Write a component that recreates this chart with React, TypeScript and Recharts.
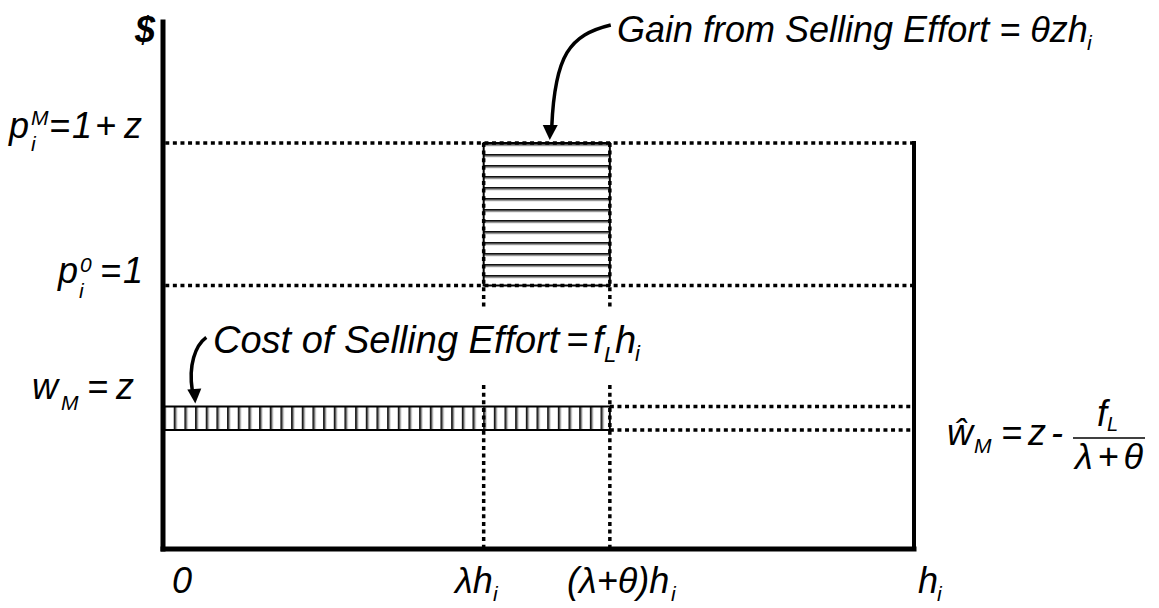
import React from "react";
import {
  ComposedChart,
  XAxis,
  YAxis,
  ReferenceLine,
  ReferenceArea,
  ReferenceDot,
} from "recharts";

// horizontal axis: hours, h_i normalised to 1
const hMax = 1;
const lambda = 0.427;
const lambdaTheta = 0.595;
const xMarks = [0, lambda, lambdaTheta, hMax];

// vertical axis: $ levels
const z = 0.541;
const p0 = 1;
const pM = 1.541;
const wHat = 0.452;
const yTop = 2;
const yMarks = [z, p0, pM];

// where the "Cost of Selling Effort" note breaks the vertical guides
const noteGap = [0.622, 0.915];

// arrow tips of the two notes
const gainTip = { x: 0.515, y: pM };
const costTip = { x: 0.043, y: z };

const FONT = '"Liberation Sans", Arial, Helvetica, sans-serif';
const DOT = "4 3.6";

const T = ({ x, y, size = 36, children, ...rest }: any) => (
  <text
    x={x}
    y={y}
    fontSize={size}
    fontFamily={FONT}
    fontStyle="italic"
    fill="#000"
    {...rest}
  >
    {children}
  </text>
);

const Dollar = ({ cx, cy }: any) => (
  <T x={cx - 28} y={cy + 20} size={36} fontWeight="bold">
    $
  </T>
);

const yLabel = (i: number) => ({ cy }: any) => {
  if (i === 2)
    return (
      <g>
        <T x={9} y={cy - 5}>p</T>
        <T x={31} y={cy - 18} size={21}>M</T>
        <T x={31} y={cy + 8} size={21}>i</T>
        <T x={49} y={cy - 5}>=</T>
        <T x={72} y={cy - 5}>1</T>
        <T x={95} y={cy - 5}>+</T>
        <T x={124} y={cy - 5}>z</T>
      </g>
    );
  if (i === 1)
    return (
      <g>
        <T x={58} y={cy - 3}>p</T>
        <T x={80} y={cy - 14} size={21}>0</T>
        <T x={79} y={cy + 12} size={21}>i</T>
        <T x={100} y={cy - 3}>=</T>
        <T x={123} y={cy - 3}>1</T>
      </g>
    );
  return (
    <g>
      <T x={32} y={cy - 7}>w</T>
      <T x={61} y={cy + 4} size={21}>M</T>
      <T x={87} y={cy - 7}>=</T>
      <T x={116} y={cy - 7}>z</T>
    </g>
  );
};

const xLabel = (i: number) => ({ cy }: any) => {
  const b = cy + 44;
  if (i === 0) return <T x={172} y={b}>0</T>;
  if (i === 1)
    return (
      <g>
        <T x={455} y={b}>λh</T>
        <T x={493} y={b + 8} size={21}>i</T>
      </g>
    );
  if (i === 2)
    return (
      <g>
        <T x={567} y={b}>(λ+θ)h</T>
        <T x={671} y={b + 8} size={21}>i</T>
      </g>
    );
  return (
    <g>
      <T x={918} y={b}>h</T>
      <T x={937} y={b + 8} size={21}>i</T>
    </g>
  );
};

const WHatLabel = ({ cy }: any) => (
  <g>
    <T x={947} y={cy + 15}>ŵ</T>
    <T x={974} y={cy + 23} size={21}>M</T>
    <T x={1001} y={cy + 15}>=</T>
    <T x={1028} y={cy + 15}>z</T>
    <T x={1051} y={cy + 15}>-</T>
    <T x={1097} y={cy - 4}>f</T>
    <T x={1107} y={cy + 1} size={20}>L</T>
    <line x1={1073} x2={1145} y1={cy + 8} y2={cy + 8} stroke="#000" strokeWidth={1.5} />
    <T x={1075} y={cy + 39} textLength={68} lengthAdjust="spacing">λ+θ</T>
  </g>
);

const GainNote = ({ cx, cy }: any) => {
  const tx = cx;
  const ty = cy - 3;
  return (
    <g>
      <path
        d={`M ${tx + 61} ${ty - 115} C ${tx + 20} ${ty - 105}, ${tx + 5} ${ty - 85}, ${tx + 2} ${ty - 13}`}
        fill="none"
        stroke="#000"
        strokeWidth={3.5}
      />
      <path d={`M ${tx} ${ty} L ${tx - 7} ${ty - 15} L ${tx + 8} ${ty - 15} Z`} fill="#000" />
      <T x={617} y={42} size={36}>Gain from Selling Effort = θzh</T>
      <T x={1087} y={50} size={21}>i</T>
    </g>
  );
};

const CostNote = ({ cx, cy }: any) => {
  const tx = cx;
  const ty = cy - 3;
  return (
    <g>
      <path
        d={`M ${tx + 11} ${ty - 66} C ${tx} ${ty - 58}, ${tx - 7} ${ty - 38}, ${tx - 3} ${ty - 13}`}
        fill="none"
        stroke="#000"
        strokeWidth={3.5}
      />
      <path d={`M ${tx} ${ty} L ${tx - 8} ${ty - 14} L ${tx + 6} ${ty - 15} Z`} fill="#000" />
      <T x={213} y={353} size={38}>Cost of Selling Effort</T>
      <T x={566} y={353} size={38}>=</T>
      <T x={593} y={353} size={38}>f</T>
      <T x={604} y={362} size={22}>L</T>
      <T x={615} y={353} size={38}>h</T>
      <T x={635} y={361} size={22}>i</T>
    </g>
  );
};

const chartData = xMarks.map((x) => ({ x }));

export default function App() {
  return (
    <div style={{ position: "absolute", left: 0, top: 0, background: "#fff" }}>
      <svg width={0} height={0} style={{ position: "absolute" }}>
        <defs>
          <pattern id="hStripe" patternUnits="userSpaceOnUse" width={8} height={11}>
            <rect x={0} y={0} width={8} height={11} fill="#fff" />
            <rect x={0} y={0} width={8} height={1.8} fill="#111" />
            <rect x={0} y={1.8} width={8} height={1.4} fill="#999" />
          </pattern>
          <pattern id="vStripe" patternUnits="userSpaceOnUse" x={3} width={10.67} height={8}>
            <rect x={0} y={0} width={10.67} height={8} fill="#fff" />
            <rect x={0} y={0} width={1.8} height={8} fill="#111" />
            <rect x={1.8} y={0} width={1.4} height={8} fill="#999" />
          </pattern>
        </defs>
      </svg>
      <ComposedChart
        width={1159}
        height={608}
        data={chartData}
        margin={{ top: 22, right: 245, bottom: 59, left: 163 }}
      >
        <XAxis dataKey="x" type="number" domain={[0, hMax]} ticks={xMarks} hide allowDataOverflow />
        <YAxis type="number" domain={[0, yTop]} ticks={yMarks} hide allowDataOverflow />

        <ReferenceArea
          x1={lambda}
          x2={lambdaTheta}
          y1={p0}
          y2={pM}
          fill="url(#hStripe)"
          fillOpacity={1}
          stroke="#000"
          strokeWidth={2}
        />
        <ReferenceArea
          x1={0}
          x2={lambdaTheta}
          y1={wHat}
          y2={z}
          fill="url(#vStripe)"
          fillOpacity={1}
          stroke="#000"
          strokeWidth={2}
        />

        {/* dotted guides */}
        <ReferenceLine segment={[{ x: 0.003, y: pM }, { x: hMax, y: pM }]} stroke="#000" strokeWidth={3.5} strokeDasharray={DOT} />
        <ReferenceLine segment={[{ x: 0.003, y: p0 }, { x: hMax, y: p0 }]} stroke="#000" strokeWidth={3.5} strokeDasharray={DOT} />
        <ReferenceLine segment={[{ x: lambdaTheta, y: z }, { x: hMax, y: z }]} stroke="#000" strokeWidth={3.5} strokeDasharray={DOT} />
        <ReferenceLine segment={[{ x: lambdaTheta, y: wHat }, { x: hMax, y: wHat }]} stroke="#000" strokeWidth={3.5} strokeDasharray={DOT} />
        {[lambda, lambdaTheta].map((x) => (
          <ReferenceLine key={`a${x}`} segment={[{ x, y: pM }, { x, y: noteGap[1] }]} stroke="#000" strokeWidth={3.5} strokeDasharray={DOT} />
        ))}
        {[lambda, lambdaTheta].map((x) => (
          <ReferenceLine key={`b${x}`} segment={[{ x, y: noteGap[0] }, { x, y: 0 }]} stroke="#000" strokeWidth={3.5} strokeDasharray={DOT} />
        ))}

        {/* axes frame */}
        <ReferenceLine segment={[{ x: 0, y: 0 }, { x: 0, y: yTop }]} stroke="#000" strokeWidth={5} strokeLinecap="square" />
        <ReferenceLine segment={[{ x: 0, y: 0 }, { x: hMax, y: 0 }]} stroke="#000" strokeWidth={5} strokeLinecap="square" />
        <ReferenceLine segment={[{ x: hMax, y: 0 }, { x: hMax, y: pM }]} stroke="#000" strokeWidth={4} strokeLinecap="square" />

        {/* labels */}
        <ReferenceDot x={0} y={yTop} r={1} shape={Dollar} />
        {yMarks.map((v, i) => (
          <ReferenceDot key={`y${i}`} x={0} y={v} r={1} shape={yLabel(i)} />
        ))}
        {xMarks.map((v, i) => (
          <ReferenceDot key={`x${i}`} x={v} y={0} r={1} shape={xLabel(i)} />
        ))}
        <ReferenceDot x={hMax} y={wHat} r={1} shape={WHatLabel} />
        <ReferenceDot x={gainTip.x} y={gainTip.y} r={1} shape={GainNote} />
        <ReferenceDot x={costTip.x} y={costTip.y} r={1} shape={CostNote} />
      </ComposedChart>
    </div>
  );
}
